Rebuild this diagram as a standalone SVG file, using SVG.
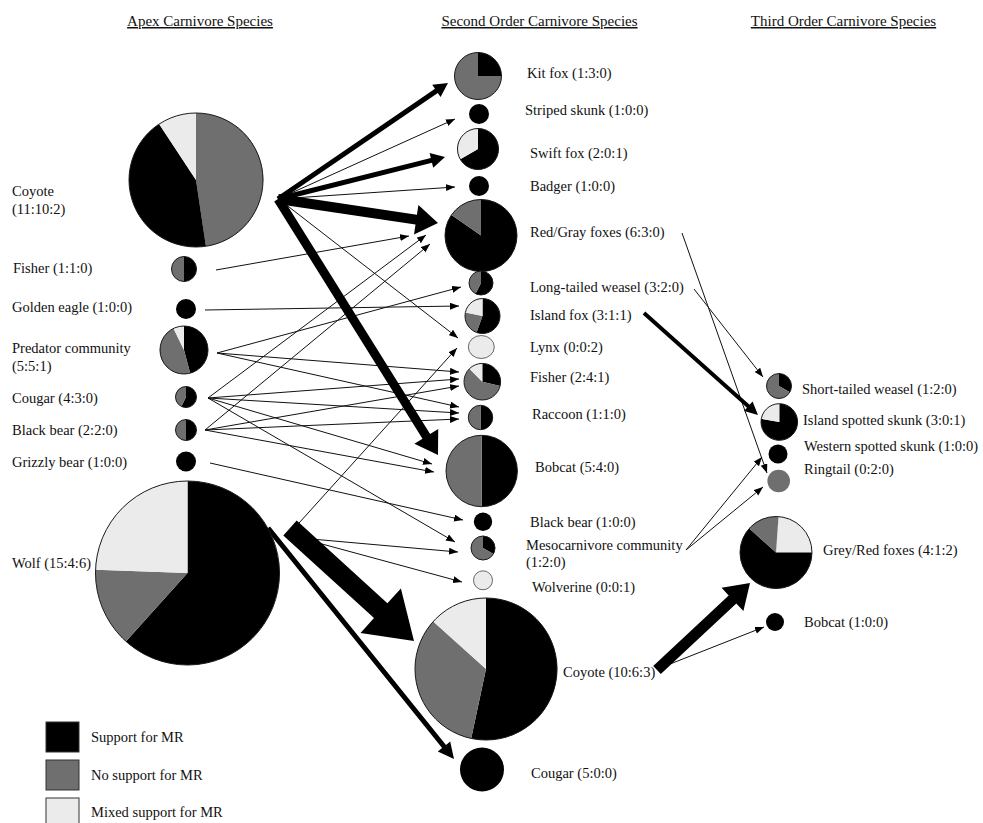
<svg xmlns="http://www.w3.org/2000/svg" width="983" height="823" viewBox="0 0 983 823">
<defs>
<style>
text{font-family:"Liberation Serif","Times New Roman",serif;font-size:14.5px;fill:#111}
.h{font-size:15px;text-decoration:underline}
.b{fill:#000}
.g{fill:#6f6f6f}
.l{fill:#ebebeb}
.o{fill:none;stroke:#1a1a1a;stroke-width:1}
.c line{stroke:#111;stroke-width:1;marker-end:url(#ah)}
.c polygon{fill:#000}
</style>
<marker id="ah" markerUnits="userSpaceOnUse" markerWidth="10" markerHeight="8" refX="9" refY="3.5" orient="auto"><path d="M0,0 L9,3.5 L0,7 z" fill="#000"/></marker>
</defs>
<rect width="983" height="823" fill="#fff"/>

<g id="headers">
<text class="h" x="200" y="26" text-anchor="middle">Apex Carnivore Species</text>
<text class="h" x="539.5" y="26" text-anchor="middle">Second Order Carnivore Species</text>
<text class="h" x="843.5" y="26" text-anchor="middle">Third Order Carnivore Species</text>
</g>

<g id="connectors" class="c">
<line x1="278" y1="199" x2="455" y2="119"/>
<line x1="278" y1="199" x2="455" y2="187"/>
<line x1="280" y1="200" x2="458" y2="338"/>
<line x1="216" y1="270" x2="409" y2="236"/>
<line x1="205" y1="310" x2="459" y2="306"/>
<line x1="217" y1="353" x2="461" y2="287"/>
<line x1="217" y1="353" x2="459" y2="372"/>
<line x1="217" y1="353" x2="459" y2="407"/>
<line x1="208" y1="398" x2="426" y2="235"/>
<line x1="208" y1="398" x2="459" y2="379"/>
<line x1="208" y1="398" x2="459" y2="413"/>
<line x1="208" y1="398" x2="432" y2="464"/>
<line x1="208" y1="398" x2="455" y2="542"/>
<line x1="205" y1="430" x2="430" y2="244"/>
<line x1="205" y1="430" x2="459" y2="386"/>
<line x1="205" y1="430" x2="459" y2="419"/>
<line x1="205" y1="430" x2="434" y2="472"/>
<line x1="210" y1="463" x2="463" y2="520"/>
<line x1="290" y1="533" x2="457" y2="348"/>
<line x1="300" y1="538" x2="458" y2="552"/>
<line x1="300" y1="538" x2="462" y2="582"/>
<line x1="682" y1="233" x2="767" y2="473"/>
<line x1="694" y1="289" x2="763" y2="377"/>
<line x1="686" y1="550" x2="762" y2="457"/>
<line x1="686" y1="550" x2="763" y2="487"/>
<line x1="665" y1="666" x2="764" y2="627"/>
<polygon points="279.4,201.1 437.8,93.0 440.6,97.1 448,83 432.2,84.7 435.0,88.8 276.6,196.9"/>
<polygon points="278.6,201.4 432.0,162.8 433.2,167.7 445,157 429.6,153.1 430.8,158.0 277.4,196.6"/>
<polygon points="277.3,204.0 415.5,224.6 414.0,234.5 438,223 418.4,204.9 416.9,214.8 278.7,194.1"/>
<polygon points="274.2,201.4 422.5,438.7 414.4,443.7 438,455 438.2,428.9 430.1,433.9 281.8,196.6"/>
<polygon points="283.3,535.4 374.0,618.1 360.5,632.9 414,641 400.9,588.5 387.4,603.3 296.7,520.6"/>
<polygon points="266.1,529.6 442.1,748.1 437.8,751.5 454,759 450.2,741.5 446.0,744.9 270.0,526.4"/>
<polygon points="660.8,674.0 736.3,603.4 743.4,611.1 750,583 721.6,587.7 728.7,595.4 653.2,666.0"/>
<polygon points="642.7,314.5 747.0,407.8 744.0,411.1 758,415 752.6,401.5 749.6,404.8 645.3,311.5"/>
</g>

<!-- Apex column -->
<g id="apex-coyote">
<path class="g" d="M196,180 L196,113 A67,67 0 0 1 205.9,246.3 Z"/>
<path class="b" d="M196,180 L205.9,246.3 A67,67 0 0 1 159.1,124.1 Z"/>
<path class="l" d="M196,180 L159.1,124.1 A67,67 0 0 1 196,113 Z"/>
<circle class="o" cx="196" cy="180" r="67"/>
<text x="12" y="196">Coyote</text>
<text x="12" y="214">(11:10:2)</text>
</g>
<g id="apex-fisher">
<path class="b" d="M184,256.5 A12.5,12.5 0 0 1 184,281.5 Z"/>
<path class="g" d="M184,281.5 A12.5,12.5 0 0 1 184,256.5 Z"/>
<circle class="o" cx="184" cy="269" r="12.5"/>
<text x="13" y="273">Fisher (1:1:0)</text>
</g>
<g id="apex-golden-eagle">
<circle class="b" cx="186" cy="309" r="10"/>
<text x="12" y="312">Golden eagle (1:0:0)</text>
</g>
<g id="apex-predator-community">
<path class="b" d="M184,350 L184,326 A24,24 0 0 1 190.2,373.2 Z"/>
<path class="g" d="M184,350 L190.2,373.2 A24,24 0 0 1 173.5,328.4 Z"/>
<path class="l" d="M184,350 L173.5,328.4 A24,24 0 0 1 184,326 Z"/>
<circle class="o" cx="184" cy="350" r="24"/>
<text x="12" y="353">Predator community</text>
<text x="12" y="371">(5:5:1)</text>
</g>
<g id="apex-cougar">
<path class="b" d="M186,397 L186,386.5 A10.5,10.5 0 1 1 181.4,406.5 Z"/>
<path class="g" d="M186,397 L181.4,406.5 A10.5,10.5 0 0 1 186,386.5 Z"/>
<circle class="o" cx="186" cy="397" r="10.5"/>
<text x="12" y="403">Cougar (4:3:0)</text>
</g>
<g id="apex-black-bear">
<path class="b" d="M186,419.5 A10.5,10.5 0 0 1 186,440.5 Z"/>
<path class="g" d="M186,440.5 A10.5,10.5 0 0 1 186,419.5 Z"/>
<circle class="o" cx="186" cy="430" r="10.5"/>
<text x="12" y="435">Black bear (2:2:0)</text>
</g>
<g id="apex-grizzly-bear">
<circle class="b" cx="186" cy="461.5" r="10"/>
<text x="12" y="467">Grizzly bear (1:0:0)</text>
</g>
<g id="apex-wolf">
<path class="b" d="M187.5,573 L187.5,481 A92,92 0 1 1 125.9,641.4 Z"/>
<path class="g" d="M187.5,573 L125.9,641.4 A92,92 0 0 1 95.6,569.8 Z"/>
<path class="l" d="M187.5,573 L95.6,569.8 A92,92 0 0 1 187.5,481 Z"/>
<circle class="o" cx="187.5" cy="573" r="92"/>
<text x="12" y="568">Wolf (15:4:6)</text>
</g>

<!-- Second order column -->
<g id="s-kit-fox">
<path class="b" d="M478,76 L478,52.5 A23.5,23.5 0 0 1 501.5,76 Z"/>
<path class="g" d="M478,76 L501.5,76 A23.5,23.5 0 1 1 478,52.5 Z"/>
<circle class="o" cx="478" cy="76" r="23.5"/>
<text x="527" y="78">Kit fox (1:3:0)</text>
</g>
<g id="s-striped-skunk">
<circle class="b" cx="479" cy="114" r="10"/>
<text x="525" y="115">Striped skunk (1:0:0)</text>
</g>
<g id="s-swift-fox">
<path class="b" d="M478,149 L478,128.5 A20.5,20.5 0 1 1 460.25,159.25 Z"/>
<path class="l" d="M478,149 L460.25,159.25 A20.5,20.5 0 0 1 478,128.5 Z"/>
<circle class="o" cx="478" cy="149" r="20.5"/>
<text x="530" y="158">Swift fox (2:0:1)</text>
</g>
<g id="s-badger">
<circle class="b" cx="479" cy="186" r="10"/>
<text x="530" y="191">Badger (1:0:0)</text>
</g>
<g id="s-red-gray-foxes">
<path class="b" d="M481,235.5 L481,199.5 A36,36 0 1 1 451.5,214.9 Z"/>
<path class="g" d="M481,235.5 L451.5,214.9 A36,36 0 0 1 481,199.5 Z"/>
<circle class="o" cx="481" cy="235.5" r="36"/>
<text x="530" y="237">Red/Gray foxes (6:3:0)</text>
</g>
<g id="s-long-tailed-weasel">
<path class="b" d="M481,283 L481,271 A12,12 0 1 1 475.55,293.7 Z"/>
<path class="g" d="M481,283 L475.55,293.7 A12,12 0 0 1 481,271 Z"/>
<circle class="o" cx="481" cy="283" r="12"/>
<text x="530" y="292">Long-tailed weasel (3:2:0)</text>
</g>
<g id="s-island-fox">
<path class="b" d="M482.5,316 L482.5,298.5 A17.5,17.5 0 1 1 476.5,332.4 Z"/>
<path class="g" d="M482.5,316 L476.5,332.4 A17.5,17.5 0 0 1 465.4,312.4 Z"/>
<path class="l" d="M482.5,316 L465.4,312.4 A17.5,17.5 0 0 1 482.5,298.5 Z"/>
<circle class="o" cx="482.5" cy="316" r="17.5"/>
<text x="530" y="320">Island fox (3:1:1)</text>
</g>
<g id="s-lynx">
<ellipse class="l" cx="481.3" cy="347" rx="13" ry="11.5" stroke="#444" stroke-width="0.8"/>
<text x="530" y="352">Lynx (0:0:2)</text>
</g>
<g id="s-fisher">
<path class="b" d="M482.3,381.7 L482.3,363.4 A18.3,18.3 0 0 1 500.1,386.1 Z"/>
<path class="g" d="M482.3,381.7 L500.1,386.1 A18.3,18.3 0 1 1 469.4,368.8 Z"/>
<path class="l" d="M482.3,381.7 L469.4,368.8 A18.3,18.3 0 0 1 482.3,363.4 Z"/>
<circle class="o" cx="482.3" cy="381.7" r="18.3"/>
<text x="530" y="382">Fisher (2:4:1)</text>
</g>
<g id="s-raccoon">
<path class="b" d="M480.5,405.3 A12.2,12.2 0 0 1 480.5,429.7 Z"/>
<path class="g" d="M480.5,429.7 A12.2,12.2 0 0 1 480.5,405.3 Z"/>
<circle class="o" cx="480.5" cy="417.5" r="12.2"/>
<text x="532" y="419">Raccoon (1:1:0)</text>
</g>
<g id="s-bobcat">
<path class="b" d="M481.7,435.3 A35.7,35.7 0 0 1 481.7,506.7 Z"/>
<path class="g" d="M481.7,506.7 A35.7,35.7 0 0 1 481.7,435.3 Z"/>
<circle class="o" cx="481.7" cy="471" r="35.7"/>
<text x="535" y="472">Bobcat (5:4:0)</text>
</g>
<g id="s-black-bear">
<circle class="b" cx="483" cy="521.7" r="9.2"/>
<text x="530" y="527">Black bear (1:0:0)</text>
</g>
<g id="s-mesocarnivore-community">
<path class="b" d="M483,548 L483,536 A12,12 0 0 1 493.4,554 Z"/>
<path class="g" d="M483,548 L493.4,554 A12,12 0 1 1 483,536 Z"/>
<circle class="o" cx="483" cy="548" r="12"/>
<text x="526" y="550">Mesocarnivore community</text>
<text x="526" y="567">(1:2:0)</text>
</g>
<g id="s-wolverine">
<circle class="l" cx="483" cy="580.3" r="9.5" stroke="#444" stroke-width="0.8"/>
<text x="532" y="592">Wolverine (0:0:1)</text>
</g>
<g id="s-coyote">
<path class="b" d="M486,669 L486,598 A71,71 0 1 1 471.2,738.4 Z"/>
<path class="g" d="M486,669 L471.2,738.4 A71,71 0 0 1 433.2,621.5 Z"/>
<path class="l" d="M486,669 L433.2,621.5 A71,71 0 0 1 486,598 Z"/>
<circle class="o" cx="486" cy="669" r="71"/>
<text x="563" y="677">Coyote (10:6:3)</text>
</g>
<g id="s-cougar">
<circle class="b" cx="482" cy="769.5" r="22"/>
<text x="531" y="778">Cougar (5:0:0)</text>
</g>

<!-- Third order column -->
<g id="t-short-tailed-weasel">
<path class="b" d="M779,386 L779,373.5 A12.5,12.5 0 0 1 789.8,392.25 Z"/>
<path class="g" d="M779,386 L789.8,392.25 A12.5,12.5 0 1 1 779,373.5 Z"/>
<circle class="o" cx="779" cy="386" r="12.5"/>
<text x="802" y="394">Short-tailed weasel (1:2:0)</text>
</g>
<g id="t-island-spotted-skunk">
<path class="b" d="M779.3,422 L779.3,403.7 A18.3,18.3 0 1 1 761.3,418.8 Z"/>
<path class="l" d="M779.3,422 L761.3,418.8 A18.3,18.3 0 0 1 779.3,403.7 Z"/>
<circle class="o" cx="779.3" cy="422" r="18.3"/>
<text x="803" y="425">Island spotted skunk (3:0:1)</text>
</g>
<g id="t-western-spotted-skunk">
<circle class="b" cx="778" cy="454" r="9.5"/>
<text x="804" y="451">Western spotted skunk (1:0:0)</text>
</g>
<g id="t-ringtail">
<circle class="g" cx="778.7" cy="481" r="11.3"/>
<text x="804" y="474">Ringtail (0:2:0)</text>
</g>
<g id="t-grey-red-foxes">
<path class="l" d="M776,552.5 L778.5,516.6 A36,36 0 0 1 812,552.5 Z"/>
<path class="b" d="M776,552.5 L812,552.5 A36,36 0 1 1 749.25,528.4 Z"/>
<path class="g" d="M776,552.5 L749.25,528.4 A36,36 0 0 1 778.5,516.6 Z"/>
<circle class="o" cx="776" cy="552.5" r="36"/>
<text x="823" y="555">Grey/Red foxes (4:1:2)</text>
</g>
<g id="t-bobcat">
<circle class="b" cx="775" cy="622" r="9"/>
<text x="804" y="627">Bobcat (1:0:0)</text>
</g>

<g id="legend">
<rect class="b" x="46" y="722" width="33" height="30" stroke="#333" stroke-width="1"/>
<rect class="g" x="46" y="760" width="33" height="30" stroke="#333" stroke-width="1"/>
<rect class="l" x="46" y="798" width="33" height="30" stroke="#333" stroke-width="1"/>
<text x="91" y="742">Support for MR</text>
<text x="91" y="780">No support for MR</text>
<text x="91" y="817">Mixed support for MR</text>
</g>
</svg>
